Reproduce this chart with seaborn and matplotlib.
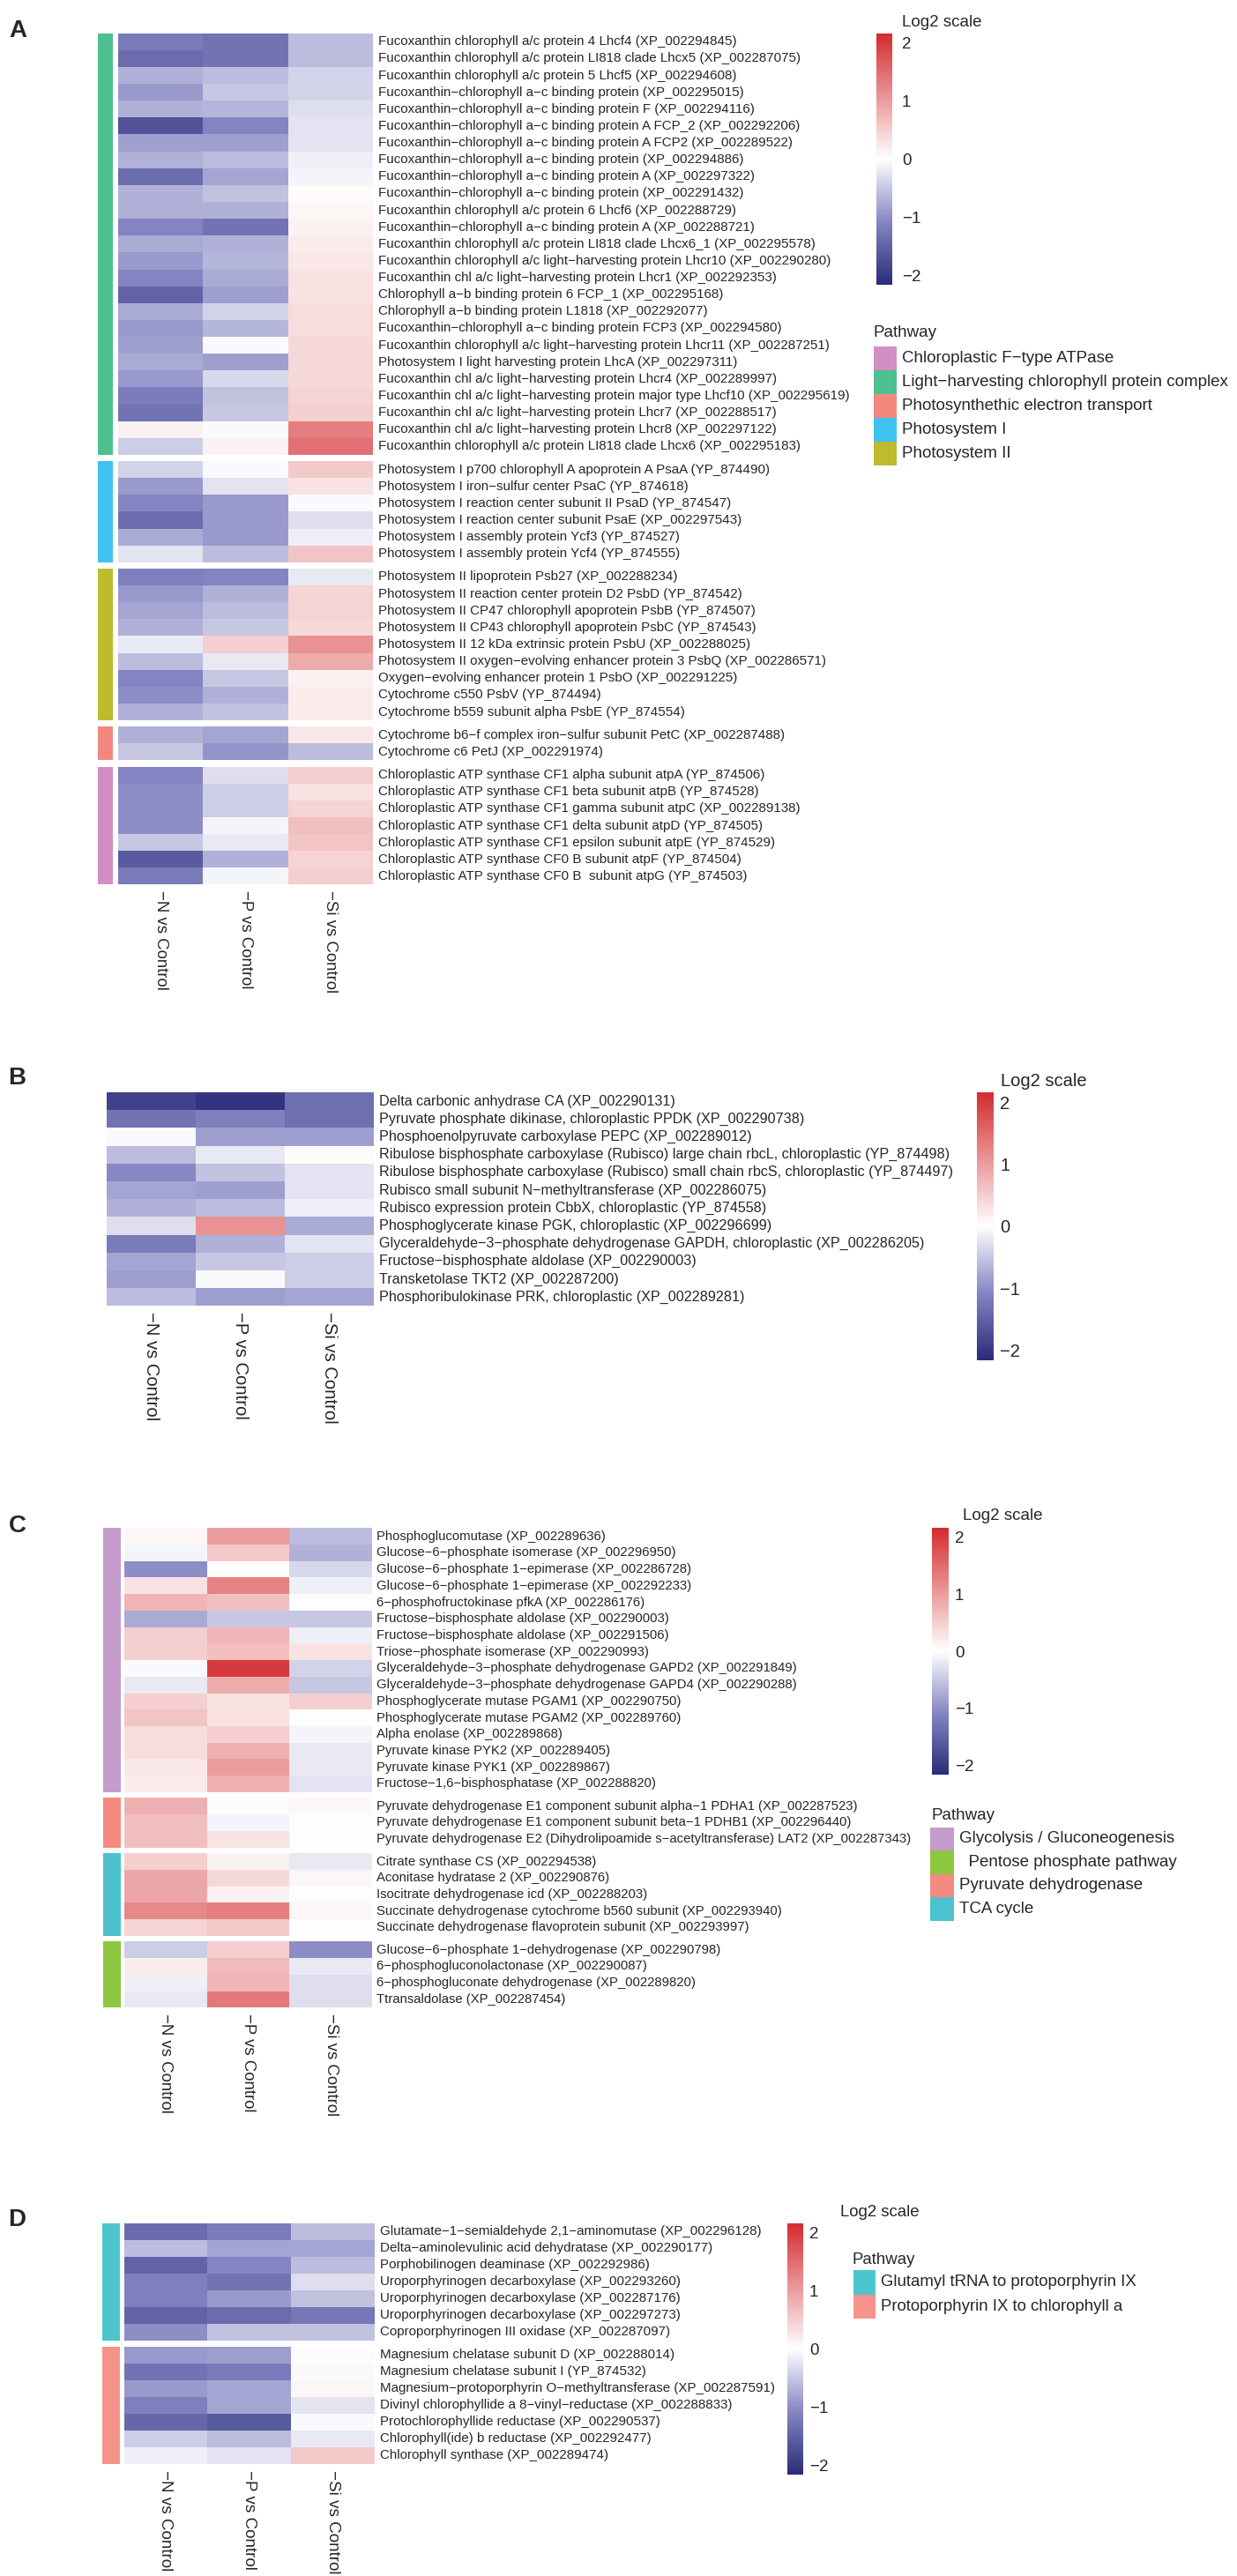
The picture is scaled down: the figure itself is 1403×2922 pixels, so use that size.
"""Log2 fold-change heatmaps of photosynthesis / carbon / chlorophyll genes (panels A-D)."""

import matplotlib
matplotlib.use("Agg")
import matplotlib.pyplot as plt
import numpy as np
import pandas as pd
import seaborn as sns
from matplotlib.colors import LinearSegmentedColormap, ListedColormap

W, H = 1403, 2922
sns.set_theme(style="white")
plt.rcParams["font.family"] = ["Liberation Sans", "DejaVu Sans"]

MINUS = "\u2212"
COLS = ["-N vs Control", "-P vs Control", "-Si vs Control"]
# navy -> white -> firebrick, slightly bluer in the lower half
CMAP = LinearSegmentedColormap.from_list(
    "log2", [(0.0, "#2A2C78"), (0.25, "#8586C3"), (0.5, "#FFFFFF"), (1.0, "#D42B2E")])
VLIM = 2.16

# ---------------------------------------------------------------- panel A
A_LHC_GENES = [
    "Fucoxanthin chlorophyll a/c protein 4 Lhcf4 (XP_002294845)",
    "Fucoxanthin chlorophyll a/c protein LI818 clade Lhcx5 (XP_002287075)",
    "Fucoxanthin chlorophyll a/c protein 5 Lhcf5 (XP_002294608)",
    "Fucoxanthin-chlorophyll a-c binding protein (XP_002295015)",
    "Fucoxanthin-chlorophyll a-c binding protein F (XP_002294116)",
    "Fucoxanthin-chlorophyll a-c binding protein A FCP_2 (XP_002292206)",
    "Fucoxanthin-chlorophyll a-c binding protein A FCP2 (XP_002289522)",
    "Fucoxanthin-chlorophyll a-c binding protein (XP_002294886)",
    "Fucoxanthin-chlorophyll a-c binding protein A (XP_002297322)",
    "Fucoxanthin-chlorophyll a-c binding protein (XP_002291432)",
    "Fucoxanthin chlorophyll a/c protein 6 Lhcf6 (XP_002288729)",
    "Fucoxanthin-chlorophyll a-c binding protein A (XP_002288721)",
    "Fucoxanthin chlorophyll a/c protein LI818 clade Lhcx6_1 (XP_002295578)",
    "Fucoxanthin chlorophyll a/c light-harvesting protein Lhcr10 (XP_002290280)",
    "Fucoxanthin chl a/c light-harvesting protein Lhcr1 (XP_002292353)",
    "Chlorophyll a-b binding protein 6 FCP_1 (XP_002295168)",
    "Chlorophyll a-b binding protein L1818 (XP_002292077)",
    "Fucoxanthin-chlorophyll a-c binding protein FCP3 (XP_002294580)",
    "Fucoxanthin chlorophyll a/c light-harvesting protein Lhcr11 (XP_002287251)",
    "Photosystem I light harvesting protein LhcA (XP_002297311)",
    "Fucoxanthin chl a/c light-harvesting protein Lhcr4 (XP_002289997)",
    "Fucoxanthin chl a/c light-harvesting protein major type Lhcf10 (XP_002295619)",
    "Fucoxanthin chl a/c light-harvesting protein Lhcr7 (XP_002288517)",
    "Fucoxanthin chl a/c light-harvesting protein Lhcr8 (XP_002297122)",
    "Fucoxanthin chlorophyll a/c protein LI818 clade Lhcx6 (XP_002295183)",
]
A_LHC_VALUES = [
    [-1.2, -1.3, -0.6], [-1.4, -1.3, -0.6], [-0.7, -0.6, -0.4], [-0.9, -0.5, -0.4],
    [-0.7, -0.65, -0.3], [-1.7, -1.1, -0.25], [-0.85, -0.85, -0.25], [-0.7, -0.6, -0.15],
    [-1.4, -0.8, -0.1], [-0.7, -0.55, 0.05], [-0.7, -0.7, 0.1], [-1.1, -1.3, 0.15],
    [-0.75, -0.7, 0.2], [-0.9, -0.65, 0.25], [-1.1, -0.75, 0.3], [-1.5, -0.85, 0.3],
    [-0.75, -0.4, 0.35], [-0.9, -0.65, 0.35], [-0.85, -0.05, 0.4], [-0.75, -0.85, 0.4],
    [-0.9, -0.35, 0.4], [-1.2, -0.55, 0.45], [-1.3, -0.5, 0.5], [0.15, -0.05, 1.3],
    [-0.45, 0.15, 1.45],
]
A_PSI_GENES = [
    "Photosystem I p700 chlorophyll A apoprotein A PsaA (YP_874490)",
    "Photosystem I iron-sulfur center PsaC (YP_874618)",
    "Photosystem I reaction center subunit II PsaD (YP_874547)",
    "Photosystem I reaction center subunit PsaE (XP_002297543)",
    "Photosystem I assembly protein Ycf3 (YP_874527)",
    "Photosystem I assembly protein Ycf4 (YP_874555)",
]
A_PSI_VALUES = [
    [-0.4, -0.05, 0.55], [-0.9, -0.25, 0.3], [-1.1, -0.9, -0.05],
    [-1.4, -0.9, -0.3], [-0.75, -0.9, -0.15], [-0.25, -0.6, 0.6],
]
A_PSII_GENES = [
    "Photosystem II lipoprotein Psb27 (XP_002288234)",
    "Photosystem II reaction center protein D2 PsbD (YP_874542)",
    "Photosystem II CP47 chlorophyll apoprotein PsbB (YP_874507)",
    "Photosystem II CP43 chlorophyll apoprotein PsbC (YP_874543)",
    "Photosystem II 12 kDa extrinsic protein PsbU (XP_002288025)",
    "Photosystem II oxygen-evolving enhancer protein 3 PsbQ (XP_002286571)",
    "Oxygen-evolving enhancer protein 1 PsbO (XP_002291225)",
    "Cytochrome c550 PsbV (YP_874494)",
    "Cytochrome b559 subunit alpha PsbE (YP_874554)",
]
A_PSII_VALUES = [
    [-1.15, -1.1, -0.2], [-0.9, -0.7, 0.45], [-0.8, -0.6, 0.45],
    [-0.7, -0.5, 0.4], [-0.2, 0.5, 1.1], [-0.6, -0.2, 0.85],
    [-1.1, -0.5, 0.15], [-1.0, -0.7, 0.2], [-0.7, -0.55, 0.2],
]
A_PET_GENES = [
    "Cytochrome b6-f complex iron-sulfur subunit PetC (XP_002287488)",
    "Cytochrome c6 PetJ (XP_002291974)",
]
A_PET_VALUES = [[-0.7, -0.8, 0.25], [-0.5, -0.95, -0.6]]
A_ATP_GENES = [
    "Chloroplastic ATP synthase CF1 alpha subunit atpA (YP_874506)",
    "Chloroplastic ATP synthase CF1 beta subunit atpB (YP_874528)",
    "Chloroplastic ATP synthase CF1 gamma subunit atpC (XP_002289138)",
    "Chloroplastic ATP synthase CF1 delta subunit atpD (YP_874505)",
    "Chloroplastic ATP synthase CF1 epsilon subunit atpE (YP_874529)",
    "Chloroplastic ATP synthase CF0 B subunit atpF (YP_874504)",
    "Chloroplastic ATP synthase CF0 B  subunit atpG (YP_874503)",
]
A_ATP_VALUES = [
    [-1.1, -0.3, 0.5], [-1.0, -0.45, 0.3], [-1.0, -0.45, 0.45], [-1.0, -0.1, 0.65],
    [-0.5, -0.2, 0.6], [-1.6, -0.7, 0.45], [-1.2, -0.1, 0.5],
]
A_PATHWAYS = [
    "Chloroplastic F-type ATPase",
    "Light-harvesting chlorophyll protein complex",
    "Photosynthethic electron transport",
    "Photosystem I",
    "Photosystem II",
]
A_COLORS = ["#D18FC3", "#4EBF8E", "#F3877E", "#3EC3F0", "#BDBB2E"]

# ---------------------------------------------------------------- panel B
B_GENES = [
    "Delta carbonic anhydrase CA (XP_002290131)",
    "Pyruvate phosphate dikinase, chloroplastic PPDK (XP_002290738)",
    "Phosphoenolpyruvate carboxylase PEPC (XP_002289012)",
    "Ribulose bisphosphate carboxylase (Rubisco) large chain rbcL, chloroplastic (YP_874498)",
    "Ribulose bisphosphate carboxylase (Rubisco) small chain rbcS, chloroplastic (YP_874497)",
    "Rubisco small subunit N-methyltransferase (XP_002286075)",
    "Rubisco expression protein CbbX, chloroplastic (YP_874558)",
    "Phosphoglycerate kinase PGK, chloroplastic (XP_002296699)",
    "Glyceraldehyde-3-phosphate dehydrogenase GAPDH, chloroplastic (XP_002286205)",
    "Fructose-bisphosphate aldolase (XP_002290003)",
    "Transketolase TKT2 (XP_002287200)",
    "Phosphoribulokinase PRK, chloroplastic (XP_002289281)",
]
B_VALUES = [
    [-1.9, -2.05, -1.35], [-1.3, -1.15, -1.35], [-0.05, -0.85, -0.85], [-0.6, -0.2, 0.05],
    [-1.05, -0.55, -0.25], [-0.8, -0.85, -0.25], [-0.7, -0.6, -0.15], [-0.3, 1.1, -0.75],
    [-1.2, -0.7, -0.25], [-0.8, -0.5, -0.45], [-0.85, -0.05, -0.45], [-0.6, -0.85, -0.8],
]

# ---------------------------------------------------------------- panel C
C_GLY_GENES = [
    "Phosphoglucomutase (XP_002289636)",
    "Glucose-6-phosphate isomerase (XP_002296950)",
    "Glucose-6-phosphate 1-epimerase (XP_002286728)",
    "Glucose-6-phosphate 1-epimerase (XP_002292233)",
    "6-phosphofructokinase pfkA (XP_002286176)",
    "Fructose-bisphosphate aldolase (XP_002290003)",
    "Fructose-bisphosphate aldolase (XP_002291506)",
    "Triose-phosphate isomerase (XP_002290993)",
    "Glyceraldehyde-3-phosphate dehydrogenase GAPD2 (XP_002291849)",
    "Glyceraldehyde-3-phosphate dehydrogenase GAPD4 (XP_002290288)",
    "Phosphoglycerate mutase PGAM1 (XP_002290750)",
    "Phosphoglycerate mutase PGAM2 (XP_002289760)",
    "Alpha enolase (XP_002289868)",
    "Pyruvate kinase PYK2 (XP_002289405)",
    "Pyruvate kinase PYK1 (XP_002289867)",
    "Fructose-1,6-bisphosphatase (XP_002288820)",
]
C_GLY_VALUES = [
    [0.1, 1.0, -0.6], [-0.1, 0.55, -0.7], [-1.0, 0.0, -0.35], [0.3, 1.25, -0.15],
    [0.75, 0.65, 0.02], [-0.75, -0.5, -0.5], [0.5, 0.75, -0.15], [0.5, 0.65, 0.3],
    [-0.05, 2.0, -0.4], [-0.2, 0.85, -0.5], [0.5, 0.3, 0.5], [0.6, 0.3, 0.02],
    [0.35, 0.5, -0.1], [0.35, 0.8, -0.2], [0.25, 1.0, -0.2], [0.2, 0.8, -0.25],
]
C_PDH_GENES = [
    "Pyruvate dehydrogenase E1 component subunit alpha-1 PDHA1 (XP_002287523)",
    "Pyruvate dehydrogenase E1 component subunit beta-1 PDHB1 (XP_002296440)",
    "Pyruvate dehydrogenase E2 (Dihydrolipoamide s-acetyltransferase) LAT2 (XP_002287343)",
]
C_PDH_VALUES = [[0.8, 0.05, 0.08], [0.65, -0.1, 0.02], [0.65, 0.3, 0.02]]
C_TCA_GENES = [
    "Citrate synthase CS (XP_002294538)",
    "Aconitase hydratase 2 (XP_002290876)",
    "Isocitrate dehydrogenase icd (XP_002288203)",
    "Succinate dehydrogenase cytochrome b560 subunit (XP_002293940)",
    "Succinate dehydrogenase flavoprotein subunit (XP_002293997)",
]
C_TCA_VALUES = [
    [0.5, 0.15, -0.2], [0.9, 0.4, 0.1], [0.9, 0.15, 0.03], [1.2, 1.3, 0.1], [0.45, 0.55, 0.03],
]
C_PPP_GENES = [
    "Glucose-6-phosphate 1-dehydrogenase (XP_002290798)",
    "6-phosphogluconolactonase (XP_002290087)",
    "6-phosphogluconate dehydrogenase (XP_002289820)",
    "Ttransaldolase (XP_002287454)",
]
C_PPP_VALUES = [[-0.45, 0.5, -1.0], [0.2, 0.7, -0.2], [-0.15, 0.75, -0.3], [-0.2, 1.35, -0.3]]
C_PATHWAYS = [
    "Glycolysis / Gluconeogenesis",
    "  Pentose phosphate pathway",
    "Pyruvate dehydrogenase",
    "TCA cycle",
]
C_COLORS = ["#C49BCB", "#8DC63F", "#F58A80", "#4BC2CE"]

# ---------------------------------------------------------------- panel D
D_GLU_GENES = [
    "Glutamate-1-semialdehyde 2,1-aminomutase (XP_002296128)",
    "Delta-aminolevulinic acid dehydratase (XP_002290177)",
    "Porphobilinogen deaminase (XP_002292986)",
    "Uroporphyrinogen decarboxylase (XP_002293260)",
    "Uroporphyrinogen decarboxylase (XP_002287176)",
    "Uroporphyrinogen decarboxylase (XP_002297273)",
    "Coproporphyrinogen III oxidase (XP_002287097)",
]
D_GLU_VALUES = [
    [-1.4, -1.2, -0.6], [-0.6, -0.8, -0.8], [-1.5, -1.1, -0.6], [-1.15, -1.3, -0.3],
    [-1.15, -0.9, -0.55], [-1.5, -1.4, -1.25], [-1.0, -0.55, -0.55],
]
D_CHL_GENES = [
    "Magnesium chelatase subunit D (XP_002288014)",
    "Magnesium chelatase subunit I (YP_874532)",
    "Magnesium-protoporphyrin O-methyltransferase (XP_002287591)",
    "Divinyl chlorophyllide a 8-vinyl-reductase (XP_002288833)",
    "Protochlorophyllide reductase (XP_002290537)",
    "Chlorophyll(ide) b reductase (XP_002292477)",
    "Chlorophyll synthase (XP_002289474)",
]
D_CHL_VALUES = [
    [-0.9, -0.85, 0.05], [-1.3, -1.2, -0.05], [-0.9, -0.8, 0.1], [-1.15, -0.8, -0.25],
    [-1.45, -1.6, -0.05], [-0.45, -0.6, -0.2], [-0.15, -0.25, 0.55],
]
D_PATHWAYS = ["Glutamyl tRNA to protoporphyrin IX", "Protoporphyrin IX to chlorophyll a"]
D_COLORS = ["#4DC5CD", "#F4938A"]


def rmin(s):
    return s.replace("-", MINUS)


def px_axes(fig, x0, y0, x1, y1):
    return fig.add_axes([x0 / W, 1 - y1 / H, (x1 - x0) / W, (y1 - y0) / H])


def draw_panel(fig, groups, lay):
    y = lay["top"]
    ax = None
    for k, (color, genes, vals) in enumerate(groups):
        y1 = y + lay["row_h"] * len(genes)
        ax = px_axes(fig, lay["hx"][0], y, lay["hx"][1], y1)
        df = pd.DataFrame(vals, index=[rmin(g) for g in genes], columns=[rmin(c) for c in COLS])
        cax = None
        if k == 0:
            cx0, cy0, cx1, cy1 = lay["cbar"]
            cax = px_axes(fig, cx0, cy0, cx1, cy1)
        sns.heatmap(df, ax=ax, cmap=CMAP, vmin=-VLIM, vmax=VLIM, cbar=k == 0, cbar_ax=cax,
                    xticklabels=False, yticklabels=True)
        ax.yaxis.tick_right()
        ax.set_yticks(np.arange(len(genes)) + 0.5)
        ax.set_yticklabels(df.index, rotation=0, va="center", ha="left", fontsize=lay["fs"])
        ax.tick_params(axis="y", length=0, pad=lay["pad"])
        ax.set_ylabel("")
        if k == 0:
            cb = ax.collections[0].colorbar
            cb.set_ticks([-2, -1, 0, 1, 2])
            cb.outline.set_visible(False)
            cax.tick_params(length=0, labelsize=lay["cfs"], pad=lay["cpad"])
        if color is not None:
            bax = px_axes(fig, lay["bx"][0], y, lay["bx"][1], y1)
            sns.heatmap(np.zeros((len(genes), 1)), ax=bax, cmap=ListedColormap([color]),
                        cbar=False, xticklabels=False, yticklabels=False)
        y = y1 + lay["gap"]
    ax.set_xticks(np.arange(3) + 0.5)
    ax.set_xticklabels([rmin(c) for c in COLS], rotation=-90, ha="center", va="top",
                       fontsize=lay["xfs"])
    ax.tick_params(axis="x", length=0, pad=5)
    fig.text(lay["letter"][0] / W, 1 - lay["letter"][1] / H, lay["name"],
             fontsize=20, fontweight="bold", ha="left", va="center")
    fig.text(lay["title"][0] / W, 1 - lay["title"][1] / H, "Log2 scale",
             fontsize=lay["lfs"], ha="left", va="center")


def draw_key(fig, labels, colors, lay):
    n = len(labels)
    x0, y0, x1, y1 = lay["key"]
    kax = px_axes(fig, x0, y0, x1, y1)
    sns.heatmap(np.arange(n)[:, None], ax=kax, cmap=ListedColormap(colors), vmin=-0.5,
                vmax=n - 0.5, cbar=False, xticklabels=False, yticklabels=[rmin(s) for s in labels])
    kax.yaxis.tick_right()
    kax.set_yticklabels([rmin(s) for s in labels], rotation=0, va="center", ha="left",
                        fontsize=lay["lfs"])
    kax.tick_params(axis="y", length=0, pad=4.5)
    fig.text(lay["ptitle"][0] / W, 1 - lay["ptitle"][1] / H, "Pathway",
             fontsize=lay["lfs"], ha="left", va="center")


fig = plt.figure(figsize=(W / 100, H / 100), dpi=100)
fig.patch.set_facecolor("white")

lay_a = dict(name="A", letter=(10, 35), top=37.7, row_h=19.13, gap=7.1, hx=(134, 423),
             bx=(110.5, 128), fs=10.9, pad=4, xfs=13.4, cbar=(994.5, 37.7, 1012.5, 323),
             cfs=13.5, cpad=7.5, lfs=13.5, title=(1023, 25), key=(991, 393, 1016.5, 528),
             ptitle=(991, 378))
draw_panel(fig, [
    (A_COLORS[1], A_LHC_GENES, A_LHC_VALUES),
    (A_COLORS[3], A_PSI_GENES, A_PSI_VALUES),
    (A_COLORS[4], A_PSII_GENES, A_PSII_VALUES),
    (A_COLORS[2], A_PET_GENES, A_PET_VALUES),
    (A_COLORS[0], A_ATP_GENES, A_ATP_VALUES),
], lay_a)
draw_key(fig, A_PATHWAYS, A_COLORS, lay_a)

lay_b = dict(name="B", letter=(9, 1223), top=1239, row_h=20.2, gap=0, hx=(121, 424),
             bx=None, fs=11.6, pad=4, xfs=14.6, cbar=(1107.7, 1239, 1127.4, 1542.7),
             cfs=14.5, cpad=5, lfs=14.5, title=(1134.6, 1226.7))
draw_panel(fig, [(None, B_GENES, B_VALUES)], lay_b)

lay_c = dict(name="C", letter=(10, 1731), top=1733.3, row_h=18.72, gap=6.6, hx=(141, 422),
             bx=(117, 137), fs=10.7, pad=3.5, xfs=13.4, cbar=(1056.7, 1733, 1076, 2013),
             cfs=13.5, cpad=5, lfs=13.5, title=(1091.7, 1720), key=(1055, 2072.5, 1081.7, 2178.7),
             ptitle=(1056, 2059.5))
draw_panel(fig, [
    (C_COLORS[0], C_GLY_GENES, C_GLY_VALUES),
    (C_COLORS[2], C_PDH_GENES, C_PDH_VALUES),
    (C_COLORS[3], C_TCA_GENES, C_TCA_VALUES),
    (C_COLORS[1], C_PPP_GENES, C_PPP_VALUES),
], lay_c)
draw_key(fig, C_PATHWAYS, C_COLORS, lay_c)

lay_d = dict(name="D", letter=(9, 2518), top=2521.7, row_h=19.0, gap=7, hx=(140.5, 425),
             bx=(116, 136), fs=10.9, pad=4.5, xfs=13.6, cbar=(893, 2521.7, 911, 2806.7),
             cfs=13.5, cpad=5, lfs=13.4, title=(953, 2510), key=(968, 2575, 993, 2630),
             ptitle=(966, 2563))
draw_panel(fig, [
    (D_COLORS[0], D_GLU_GENES, D_GLU_VALUES),
    (D_COLORS[1], D_CHL_GENES, D_CHL_VALUES),
], lay_d)
draw_key(fig, D_PATHWAYS, D_COLORS, lay_d)

fig.savefig("out.png", dpi=100, facecolor="white")
